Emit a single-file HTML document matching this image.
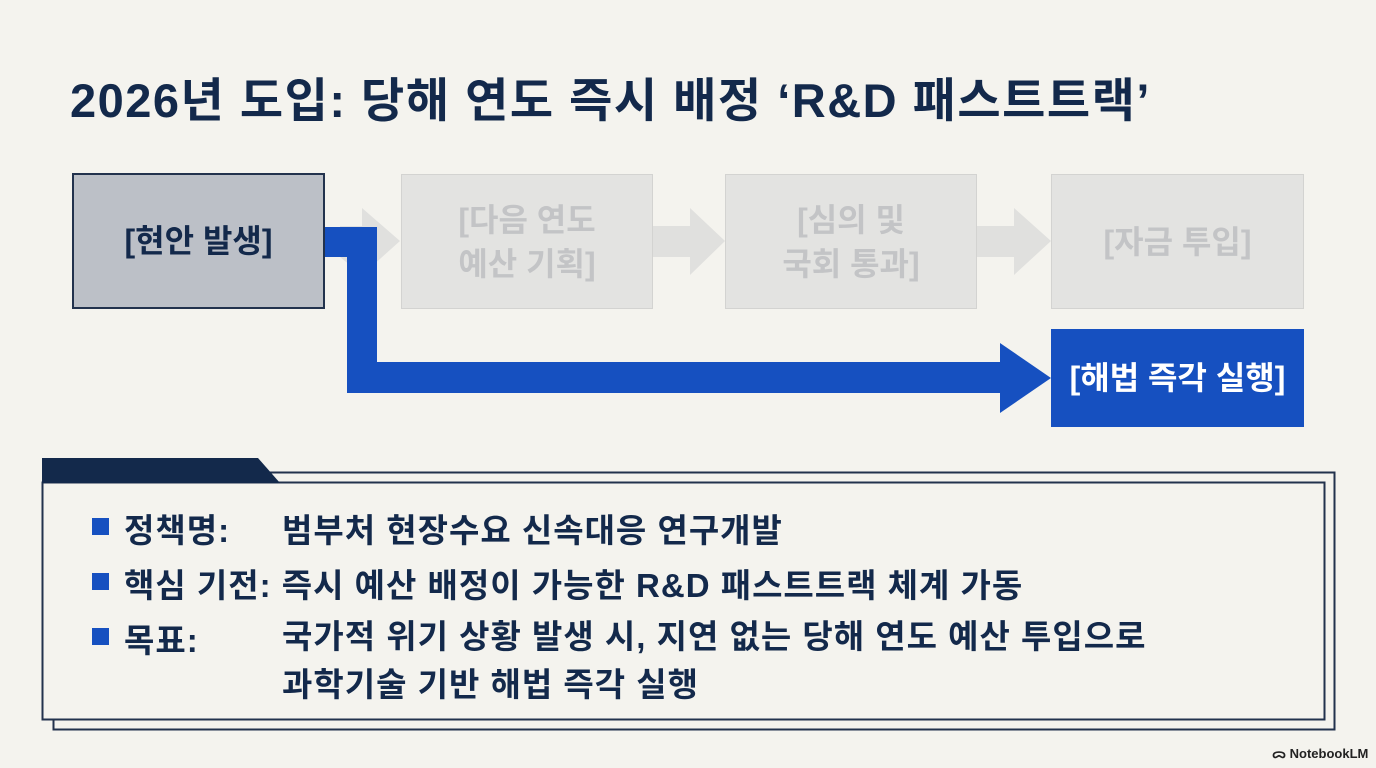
<!DOCTYPE html>
<html><head><meta charset="utf-8"><style>
body{margin:0;width:1376px;height:768px;background:#f4f3ee;position:relative;overflow:hidden;font-family:"Liberation Sans","Noto Sans CJK KR",sans-serif;}
.a{position:absolute}
.t{left:70px;top:62px;font-size:47px;font-weight:700;color:#13294b;letter-spacing:1.5px;white-space:nowrap}
.box{position:absolute;display:flex;align-items:center;justify-content:center;text-align:center;font-weight:700;font-size:32px;line-height:44px;box-sizing:border-box}
.g{background:#e3e3e1;border:1.5px solid #d3d3d1;color:#c3c4c6}
.li{position:absolute;left:92px;font-size:33px;font-weight:700;color:#13294b;white-space:nowrap;letter-spacing:1px}
.sq{position:absolute;left:92px;width:17px;height:17px;background:#1650c0}
</style></head><body>
<div class="a t">2026년 도입: 당해 연도 즉시 배정 ‘R&amp;D 패스트트랙’</div>

<svg class="a" style="left:0;top:0" width="1376" height="768">
<polygon points="652,226 690,226 690,208 725,241 690,275 690,257 652,257" fill="#e0e0de"/>
<polygon points="976,226 1014,226 1014,208 1051,241 1014,275 1014,257 976,257" fill="#e0e0de"/>
<polygon points="340,226 362,226 362,208 400,241 362,275 340,257" fill="#e0e0de"/>
<polygon points="324,227 377,227 377,362 1000,362 1000,343 1051,378 1000,413 1000,393 347,393 347,257 324,257" fill="#1650c0"/>
<rect x="53.5" y="472.5" width="1281" height="257" fill="none" stroke="#22324d" stroke-width="2"/>
<rect x="42.5" y="482.5" width="1282" height="237" fill="#f4f3ee" stroke="#22324d" stroke-width="2"/>
<polygon points="42,458 258,458 280,483 42,483" fill="#13294b"/>
</svg>

<div class="box" style="left:72px;top:173px;width:253px;height:136px;background:#bcc0c7;border:2px solid #22324d;color:#13294b">[현안 발생]</div>
<div class="box g" style="left:401px;top:174px;width:252px;height:135px">[다음 연도<br>예산 기획]</div>
<div class="box g" style="left:725px;top:174px;width:252px;height:135px">[심의 및<br>국회 통과]</div>
<div class="box g" style="left:1051px;top:174px;width:253px;height:135px">[자금 투입]</div>
<div class="box" style="left:1051px;top:329px;width:253px;height:98px;background:#1650c0;color:#fff">[해법 즉각 실행]</div>

<div class="sq" style="top:518px"></div>
<div class="li" style="left:124px;top:504px">정책명:</div>
<div class="li" style="left:282px;top:504px">범부처 현장수요 신속대응 연구개발</div>
<div class="sq" style="top:573px"></div>
<div class="li" style="left:124px;top:559px">핵심 기전: 즉시 예산 배정이 가능한 R&amp;D 패스트트랙 체계 가동</div>
<div class="sq" style="top:628px"></div>
<div class="li" style="left:124px;top:614px">목표:</div>
<div class="li" style="left:282px;top:613px;line-height:48px">국가적 위기 상황 발생 시, 지연 없는 당해 연도 예산 투입으로<br>과학기술 기반 해법 즉각 실행</div>

<div class="a" style="left:1272px;top:744px;font-size:13px;color:#222;font-weight:700">ᯅ NotebookLM</div>
</body></html>
